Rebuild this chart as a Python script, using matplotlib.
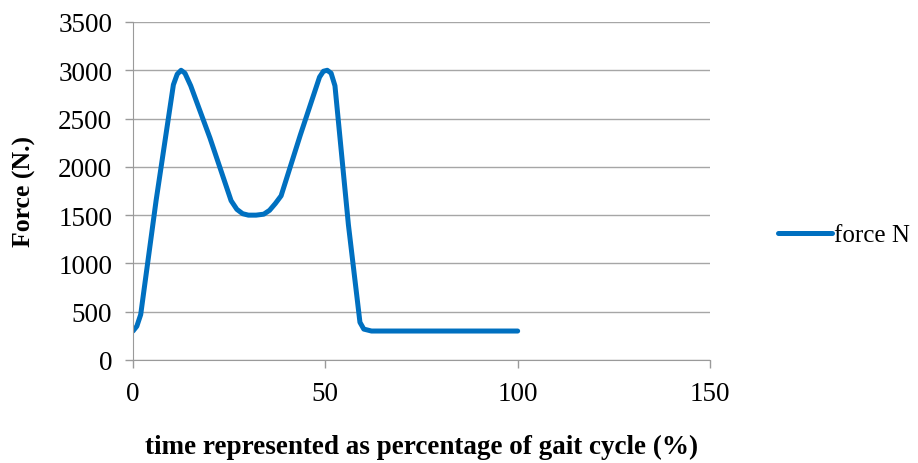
"""Force over the gait cycle, redrawn from an Excel chart."""
import matplotlib
matplotlib.use('Agg')
import matplotlib.pyplot as plt

# Values
gait_pct = [0, 1, 2, 6, 10.5, 11.5, 12.5, 13.5, 15, 20, 25.5, 27, 28.5,
            30, 32, 34, 35.5, 37, 38.5, 43.5, 48.5, 49.5, 50.5, 51.5, 52.5,
            56, 59, 60, 62, 80, 100]
force_n = [300, 350, 470, 1650, 2850, 2960, 3000, 2970, 2840, 2300, 1650,
           1560, 1515, 1500, 1500, 1510, 1550, 1620, 1700, 2330, 2930, 2990,
           3000, 2970, 2840, 1400, 390, 320, 300, 300, 300]

x_ticks = [0, 50, 100, 150]
y_ticks = [0, 500, 1000, 1500, 2000, 2500, 3000, 3500]

plt.rcParams['font.family'] = ['Liberation Serif', 'DejaVu Serif']

fig = plt.figure(figsize=(9.18, 4.64), dpi=100)
ax = fig.add_axes([133 / 918, 1 - 361 / 464, (710 - 133) / 918,
                   (361 - 23) / 464])

ax.plot(gait_pct, force_n, color='#0070C0', lw=3.6,
        solid_joinstyle='round', solid_capstyle='round', label='force N')

ax.set_xlim(0, 150)
ax.set_ylim(0, 3500)
ax.set_xticks(x_ticks)
ax.set_yticks(y_ticks)
ax.yaxis.grid(True, color='#a6a6a6', lw=1)
ax.set_axisbelow(True)
for side in ('top', 'right'):
    ax.spines[side].set_visible(False)
for side in ('left', 'bottom'):
    ax.spines[side].set_color('#9a9a9a')
ax.tick_params(colors='#9a9a9a', labelcolor='black', labelsize=19.5,
               length=6, width=1, direction='out')
ax.tick_params(axis='x', pad=9)
ax.tick_params(axis='y', pad=9)

ax.set_xlabel('time represented as percentage of gait cycle (%)',
              fontsize=19.5, fontweight='bold', labelpad=20)
ax.set_ylabel('Force (N.)', fontsize=18.5, fontweight='bold', labelpad=16)

ax.legend(loc='center left', bbox_to_anchor=(768 / 918, 1 - 236 / 464),
          bbox_transform=fig.transFigure, frameon=False, fontsize=18,
          handlelength=2.15, handletextpad=0.1, borderaxespad=0)

fig.savefig('out.png', dpi=100)
